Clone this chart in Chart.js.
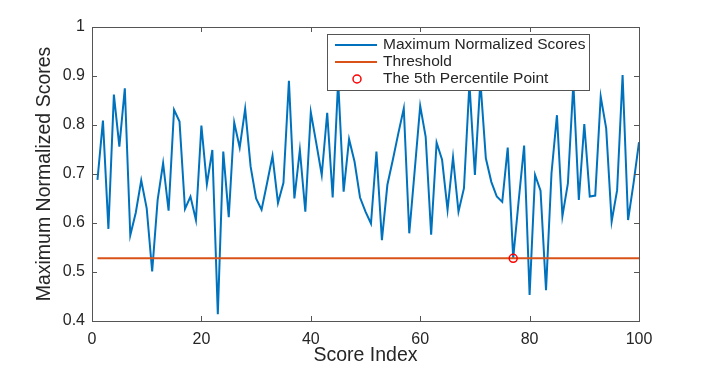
<!DOCTYPE html>
<html>
<head>
<meta charset="utf-8">
<script src="https://cdn.jsdelivr.net/npm/chart.js@4"></script>
<style>
  html, body { margin: 0; padding: 0; background: #fff; }
  canvas { display: block; }
</style>
</head>
<body>
<canvas id="scoreChart" width="706" height="367"></canvas>
<script>
// values
const scoreIndex = Array.from({ length: 100 }, (_, i) => i + 1);
const scores = [
    0.688, 0.809, 0.588, 0.862, 0.756, 0.875, 0.575, 0.621, 0.687, 0.630,
    0.501, 0.647, 0.722, 0.625, 0.831, 0.807, 0.629, 0.654, 0.606, 0.799,
    0.679, 0.749, 0.414, 0.746, 0.612, 0.805, 0.754, 0.833, 0.715, 0.650,
    0.627, 0.681, 0.737, 0.641, 0.682, 0.890, 0.650, 0.749, 0.623, 0.826,
    0.763, 0.698, 0.825, 0.652, 0.890, 0.664, 0.771, 0.725, 0.652, 0.623,
    0.599, 0.746, 0.565, 0.678, 0.729, 0.783, 0.834, 0.579, 0.708, 0.839,
    0.776, 0.576, 0.764, 0.729, 0.627, 0.734, 0.623, 0.671, 0.885, 0.698,
    0.890, 0.732, 0.684, 0.654, 0.643, 0.754, 0.528, 0.645, 0.758, 0.453,
    0.698, 0.666, 0.463, 0.701, 0.820, 0.614, 0.681, 0.885, 0.647, 0.802,
    0.654, 0.656, 0.858, 0.793, 0.603, 0.667, 0.902, 0.606, 0.681, 0.765
];
const threshold = 0.528;
const percentileIndex = 77;
const percentileValue = 0.528;

const xTicks = [0, 20, 40, 60, 80, 100];
const yTicks = [0.4, 0.5, 0.6, 0.7, 0.8, 0.9, 1];
const legendLabels = ['Maximum Normalized Scores', 'Threshold', 'The 5th Percentile Point'];

const BLUE = '#0072BD';
const ORANGE = '#D95319';
const RED = '#FF0000';
const AXIS = '#555555';
const TEXT = '#262626';
const FONT = '"Liberation Sans", Arial, Helvetica, sans-serif';

// box around the axes with matlab-style inward ticks
const axesBox = {
    id: 'axesBox',
    afterDraw(chart) {
        const { ctx, chartArea: a, scales } = chart;
        ctx.save();
        ctx.strokeStyle = AXIS;
        ctx.lineWidth = 1;
        ctx.strokeRect(Math.round(a.left) + 0.5, Math.round(a.top) + 0.5,
            Math.round(a.right - a.left), Math.round(a.bottom - a.top));
        const len = 5;
        ctx.beginPath();
        xTicks.forEach(v => {
            const px = Math.round(scales.x.getPixelForValue(v)) + 0.5;
            ctx.moveTo(px, a.bottom); ctx.lineTo(px, a.bottom - len);
            ctx.moveTo(px, a.top); ctx.lineTo(px, a.top + len);
        });
        yTicks.forEach(v => {
            const py = Math.round(scales.y.getPixelForValue(v)) + 0.5;
            ctx.moveTo(a.left, py); ctx.lineTo(a.left + len, py);
            ctx.moveTo(a.right, py); ctx.lineTo(a.right - len, py);
        });
        ctx.stroke();
        ctx.restore();
    }
};

// legend box inside the plot, drawn over the lines
const innerLegend = {
    id: 'innerLegend',
    afterDatasetsDraw(chart) {
        const { ctx } = chart;
        const box = { x: 327, y: 34, w: 262, h: 56 };
        ctx.save();
        ctx.fillStyle = '#fff';
        ctx.fillRect(box.x, box.y, box.w, box.h);
        ctx.strokeStyle = AXIS;
        ctx.lineWidth = 1;
        ctx.strokeRect(box.x + 0.5, box.y + 0.5, box.w, box.h);

        const rows = [45, 62, 79];
        ctx.lineWidth = 2;
        ctx.strokeStyle = BLUE;
        ctx.beginPath(); ctx.moveTo(335, rows[0]); ctx.lineTo(377, rows[0]); ctx.stroke();
        ctx.strokeStyle = ORANGE;
        ctx.beginPath(); ctx.moveTo(335, rows[1]); ctx.lineTo(377, rows[1]); ctx.stroke();
        ctx.strokeStyle = RED;
        ctx.lineWidth = 1.5;
        ctx.beginPath(); ctx.arc(357, rows[2], 4, 0, Math.PI * 2); ctx.stroke();

        ctx.fillStyle = TEXT;
        ctx.font = '15.5px ' + FONT;
        ctx.textBaseline = 'middle';
        legendLabels.forEach((t, i) => ctx.fillText(t, 383, rows[i]));
        ctx.restore();
    }
};

new Chart(document.getElementById('scoreChart'), {
    type: 'line',
    data: {
        datasets: [
            {
                label: legendLabels[2],
                type: 'scatter',
                data: [{ x: percentileIndex, y: percentileValue }],
                pointStyle: 'circle',
                pointRadius: 4,
                pointBorderWidth: 1.5,
                pointBorderColor: RED,
                pointBackgroundColor: 'rgba(0,0,0,0)',
                showLine: false,
                order: 0
            },
            {
                label: legendLabels[1],
                data: [
                    { x: scoreIndex[0], y: threshold },
                    { x: scoreIndex[scoreIndex.length - 1], y: threshold }
                ],
                borderColor: ORANGE,
                borderWidth: 2,
                pointRadius: 0,
                order: 1
            },
            {
                label: legendLabels[0],
                data: scoreIndex.map((x, i) => ({ x, y: scores[i] })),
                borderColor: BLUE,
                borderWidth: 2,
                pointRadius: 0,
                tension: 0,
                order: 2
            }
        ]
    },
    options: {
        responsive: false,
        animation: false,
        layout: { padding: { top: 27, right: 67, left: 0, bottom: 0 } },
        plugins: {
            legend: { display: false },
            tooltip: { enabled: false }
        },
        scales: {
            x: {
                type: 'linear',
                min: 0,
                max: 100,
                grid: { display: false, drawTicks: false },
                border: { display: false },
                afterBuildTicks: s => { s.ticks = xTicks.map(v => ({ value: v })); },
                afterFit: s => { s.height = 46; },
                ticks: {
                    color: TEXT,
                    font: { family: FONT, size: 16 },
                    padding: 9,
                    maxRotation: 0,
                    callback: v => String(v)
                },
                title: {
                    display: true,
                    text: 'Score Index',
                    color: TEXT,
                    font: { family: FONT, size: 19.5 },
                    padding: { top: -3, bottom: 0 }
                }
            },
            y: {
                type: 'linear',
                min: 0.4,
                max: 1,
                grid: { display: false, drawTicks: false },
                border: { display: false },
                afterBuildTicks: s => { s.ticks = yTicks.map(v => ({ value: v })); },
                afterFit: s => { s.width = 92; },
                ticks: {
                    color: TEXT,
                    font: { family: FONT, size: 16 },
                    padding: 7,
                    callback: v => String(+v.toFixed(1))
                },
                title: {
                    display: true,
                    text: 'Maximum Normalized Scores',
                    color: TEXT,
                    font: { family: FONT, size: 19.5 },
                    padding: { top: 33, bottom: 0 }
                }
            }
        }
    },
    plugins: [innerLegend, axesBox]
});
</script>
</body>
</html>
